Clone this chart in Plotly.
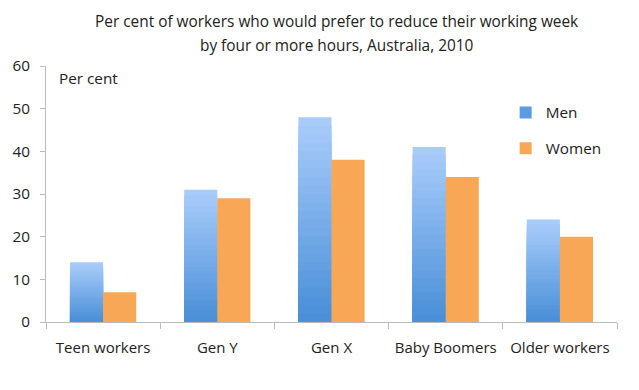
import plotly.graph_objects as go

categories = ["Teen workers", "Gen Y", "Gen X", "Baby Boomers", "Older workers"]
men = [14, 31, 48, 41, 24]
women = [7, 29, 38, 34, 20]
title_line1 = "Per cent of workers who would prefer to reduce their working week"
title_line2 = "by four or more hours, Australia, 2010"

FONT = "Open Sans"
TXT = "#222222"
light = (168, 204, 250)
dark = (74, 143, 216)
N = 24

fig = go.Figure()
# Men: gradient made of overlaid bars (same offsetgroup), top light -> bottom dark
for k in range(N):
    t = k / (N - 1)
    c = tuple(int(round(light[i] + (dark[i] - light[i]) * t)) for i in range(3))
    frac = 1 - k / N
    fig.add_trace(go.Bar(
        x=categories, y=[v * frac for v in men],
        offsetgroup="men", legendgroup="men",
        name="Men", showlegend=False,
        marker=dict(color="rgb(%d,%d,%d)" % c, line=dict(width=0)),
        hoverinfo="skip",
    ))
fig.add_trace(go.Bar(
    x=categories, y=[None] * len(categories), name="Men",
    offsetgroup="men", legendgroup="men",
    marker=dict(color="#5b9be2", line=dict(width=0)),
))
fig.add_trace(go.Bar(
    x=categories, y=women, name="Women",
    offsetgroup="women", legendgroup="women",
    marker=dict(color="#f8a757", line=dict(width=0)),
))

fig.update_layout(
    width=631, height=382,
    margin=dict(l=38, r=22, t=58, b=68),
    paper_bgcolor="white", plot_bgcolor="white",
    barmode="group", bargap=0.42, bargroupgap=0,
    font=dict(family=FONT, size=15, color=TXT),
    legend=dict(x=0.805, y=0.883, xanchor="left", yanchor="top",
                font=dict(family=FONT, size=15.3, color=TXT),
                tracegroupgap=13, bgcolor="rgba(0,0,0,0)"),
    showlegend=True,
    xaxis=dict(showline=True, linecolor="#bbbbbb", linewidth=1,
               ticks="outside", tickson="boundaries", ticklen=6, tickcolor="#bbbbbb",
               tickangle=0, automargin=False, ticklabelstandoff=12,
               tickfont=dict(family=FONT, size=15, color=TXT),
               showgrid=False),
    yaxis=dict(range=[0, 60], dtick=10, showline=True, linecolor="#bbbbbb", linewidth=1,
               ticks="outside", ticklen=5, tickcolor="#bbbbbb", ticklabelstandoff=7,
               automargin=False,
               tickfont=dict(family=FONT, size=15.3, color=TXT),
               showgrid=False, zeroline=False),
    annotations=[
        dict(text="Per cent", xref="paper", yref="paper", x=0.019, y=1.0,
             xanchor="left", yanchor="top", showarrow=False,
             font=dict(family=FONT, size=15.3, color=TXT)),
        dict(text=title_line1, xref="paper", yref="paper", x=0.5096, y=1.172,
             xanchor="center", yanchor="middle", showarrow=False,
             font=dict(family=FONT, size=15.4, color=TXT)),
        dict(text=title_line2, xref="paper", yref="paper", x=0.5096, y=1.082,
             xanchor="center", yanchor="middle", showarrow=False,
             font=dict(family=FONT, size=15.4, color=TXT)),
    ],
)

fig.write_html("out.html")
